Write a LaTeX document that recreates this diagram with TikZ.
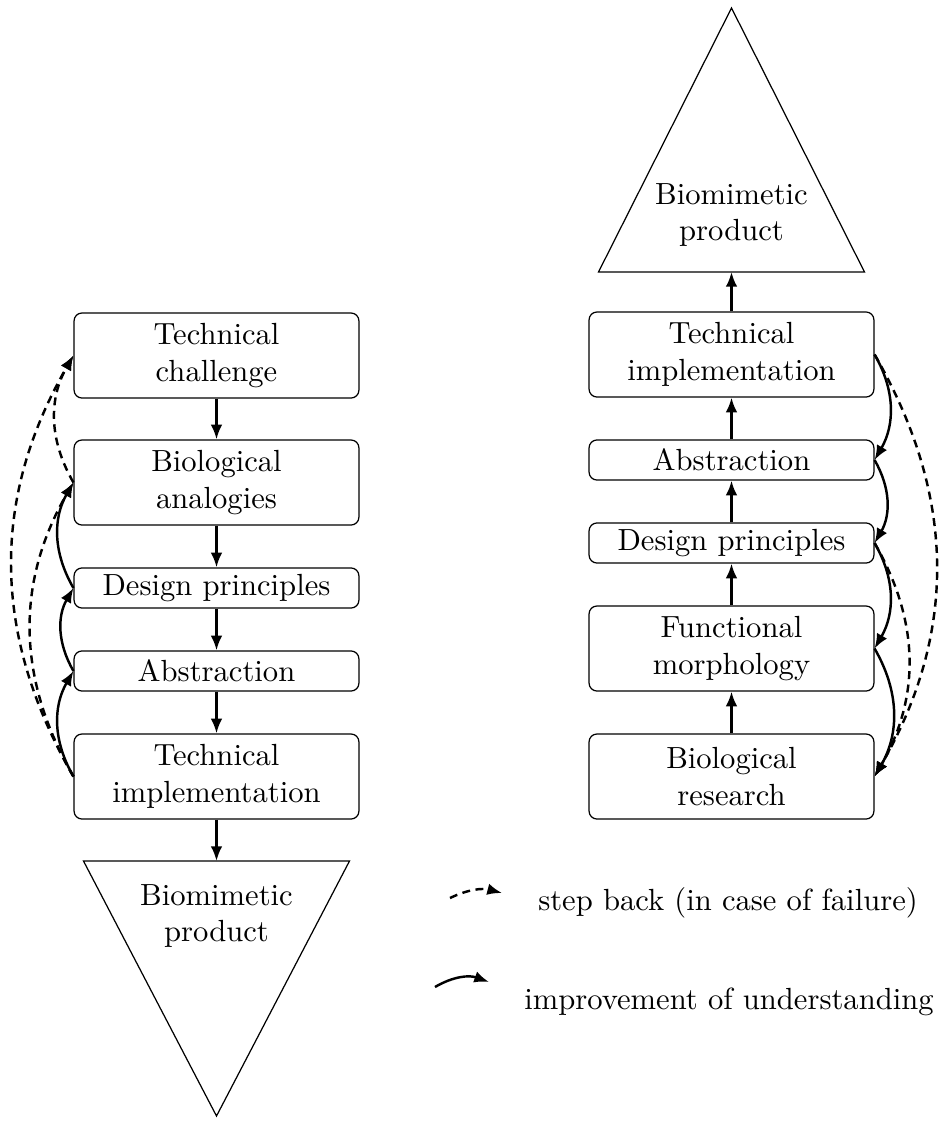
\documentclass[tikz,border=0pt]{standalone}
\usetikzlibrary{arrows.meta}
\begin{document}
\begin{tikzpicture}[x=0.3268pt,y=-0.3268pt,
  stage/.style={draw, line width=0.4pt, rounded corners=2.6pt, minimum width=93.1pt, inner sep=0pt, align=center},
  tall/.style={stage, minimum height=27.8pt},
  flat/.style={stage, minimum height=13.1pt},
  flow/.style={-{Latex[length=4.8pt,width=3.8pt]}, line width=0.8pt},
  loop/.style={flow, bend left=30},
  back/.style={loop, dash pattern=on 2.6pt off 1.8pt},
  label/.style={align=center, inner sep=0pt},
]
\useasboundingbox (0,0) rectangle (944,1126);

% ---- problem-driven process (left column) ----
\node[tall] (chalL) at (216.5,355.5) {Technical\\challenge};
\node[tall] (anaL)  at (216.5,482.5) {Biological\\analogies};
\node[flat] (desL)  at (216.5,588)   {Design principles};
\node[flat] (absL)  at (216.5,671)   {Abstraction};
\node[tall] (impL)  at (216.5,776.5) {Technical\\implementation};
\draw[line width=0.4pt] (83.5,861) -- (349.5,861) -- (216.5,1116) -- cycle;
\coordinate (prodLtop) at (216.5,861);
\node[label] (prodL) at (216.5,916) {Biomimetic\\product};

\draw[flow] (chalL) -- (anaL);
\draw[flow] (anaL) -- (desL);
\draw[flow] (desL) -- (absL);
\draw[flow] (absL) -- (impL);
\draw[flow] (impL) -- (prodLtop);

\draw[loop] (impL.west) to (absL.west);
\draw[loop] (absL.west) to (desL.west);
\draw[loop] (desL.west) to (anaL.west);
\draw[back] (impL.west) to (chalL.west);
\draw[back] (impL.west) to (anaL.west);
\draw[back] (anaL.west) to (chalL.west);

% ---- solution-based process (right column) ----
\node[tall] (impR) at (731.5,354.5) {Technical\\implementation};
\node[flat] (absR) at (731.5,460)   {Abstraction};
\node[flat] (desR) at (731.5,543)   {Design principles};
\node[tall] (morR) at (731.5,648.5) {Functional\\morphology};
\node[tall] (bioR) at (731.5,776.5) {Biological\\research};
\draw[line width=0.4pt] (598.5,272) -- (864.5,272) -- (731.5,8) -- cycle;
\coordinate (prodRbase) at (731.5,272);
\node[label] (prodR) at (731.5,215) {Biomimetic\\product};

\draw[flow] (bioR) -- (morR);
\draw[flow] (morR) -- (desR);
\draw[flow] (desR) -- (absR);
\draw[flow] (absR) -- (impR);
\draw[flow] (impR) -- (prodRbase);

\draw[loop] (impR.east) to (absR.east);
\draw[loop] (absR.east) to (desR.east);
\draw[loop] (desR.east) to (morR.east);
\draw[loop] (morR.east) to (bioR.east);
\draw[back] (impR.east) to (bioR.east);
\draw[back] (desR.east) to (bioR.east);

% ---- legend ----
\coordinate (lgBackA) at (450,898);
\coordinate (lgBackB) at (502,893);
\coordinate (lgImpA) at (435,987);
\coordinate (lgImpB) at (489,982);
\draw[back, bend left=20] (lgBackA) to (lgBackB);
\draw[flow, bend left=25] (lgImpA) to (lgImpB);
\node[label] (lgBack) at (728,903) {step back (in case of failure)};
\node[label] (lgImp) at (729,1002) {improvement of understanding};
\end{tikzpicture}
\end{document}
